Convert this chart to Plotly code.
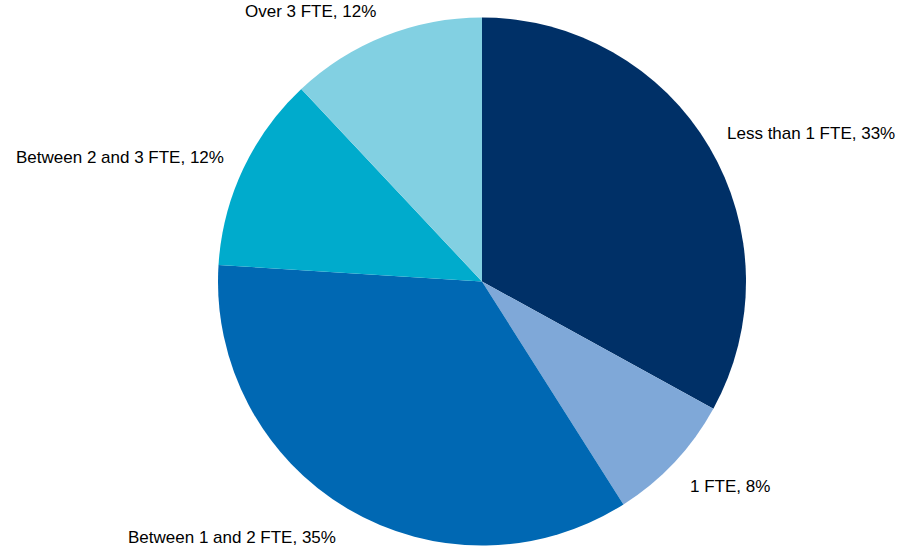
import math
import plotly.graph_objects as go

labels = ["Less than 1 FTE", "1 FTE", "Between 1 and 2 FTE", "Between 2 and 3 FTE", "Over 3 FTE"]
values = [33, 8, 35, 12, 12]
colors = ["#003067", "#7FA8D8", "#0068B3", "#00ABCC", "#82D0E2"]

W, H = 900, 554
cx, cy, R = 482, 281.5, 264  # pie centre/radius in pixels

ydom = [1 - (cy + R) / H, 1 - (cy - R) / H]
half = (cx / W)
xdom = [2 * half - 1, 1.0] if half > 0.5 else [0.0, 2 * half]

fig = go.Figure(go.Pie(
    labels=labels,
    values=values,
    sort=False,
    direction="clockwise",
    rotation=0,
    marker=dict(colors=colors, line=dict(width=0)),
    textinfo="none",
    showlegend=False,
    hoverinfo="label+percent",
    domain=dict(x=xdom, y=ydom),
))

total = sum(values)
cum = 0
annotations = []
for lab, v in zip(labels, values):
    mid = (cum + v / 2) / total * 2 * math.pi
    cum += v
    s, c = math.sin(mid), math.cos(mid)
    px = cx + R * 1.07 * s
    py = cy - R * 1.1 * c + (6 if c < 0 else 0)
    annotations.append(dict(
        x=px / W, y=1 - py / H, xref="paper", yref="paper",
        text=f"{lab}, {round(v / total * 100)}%",
        showarrow=False,
        xanchor="left" if s > 0 else "right",
        yanchor="middle",
        font=dict(family="Arial, Liberation Sans", size=17, color="#000000"),
    ))

fig.update_layout(
    width=W, height=H,
    margin=dict(l=0, r=0, t=0, b=0),
    paper_bgcolor="white",
    annotations=annotations,
)
fig.write_html("out.html", config={"displayModeBar": False},
               post_script="document.body.style.margin='0';")
